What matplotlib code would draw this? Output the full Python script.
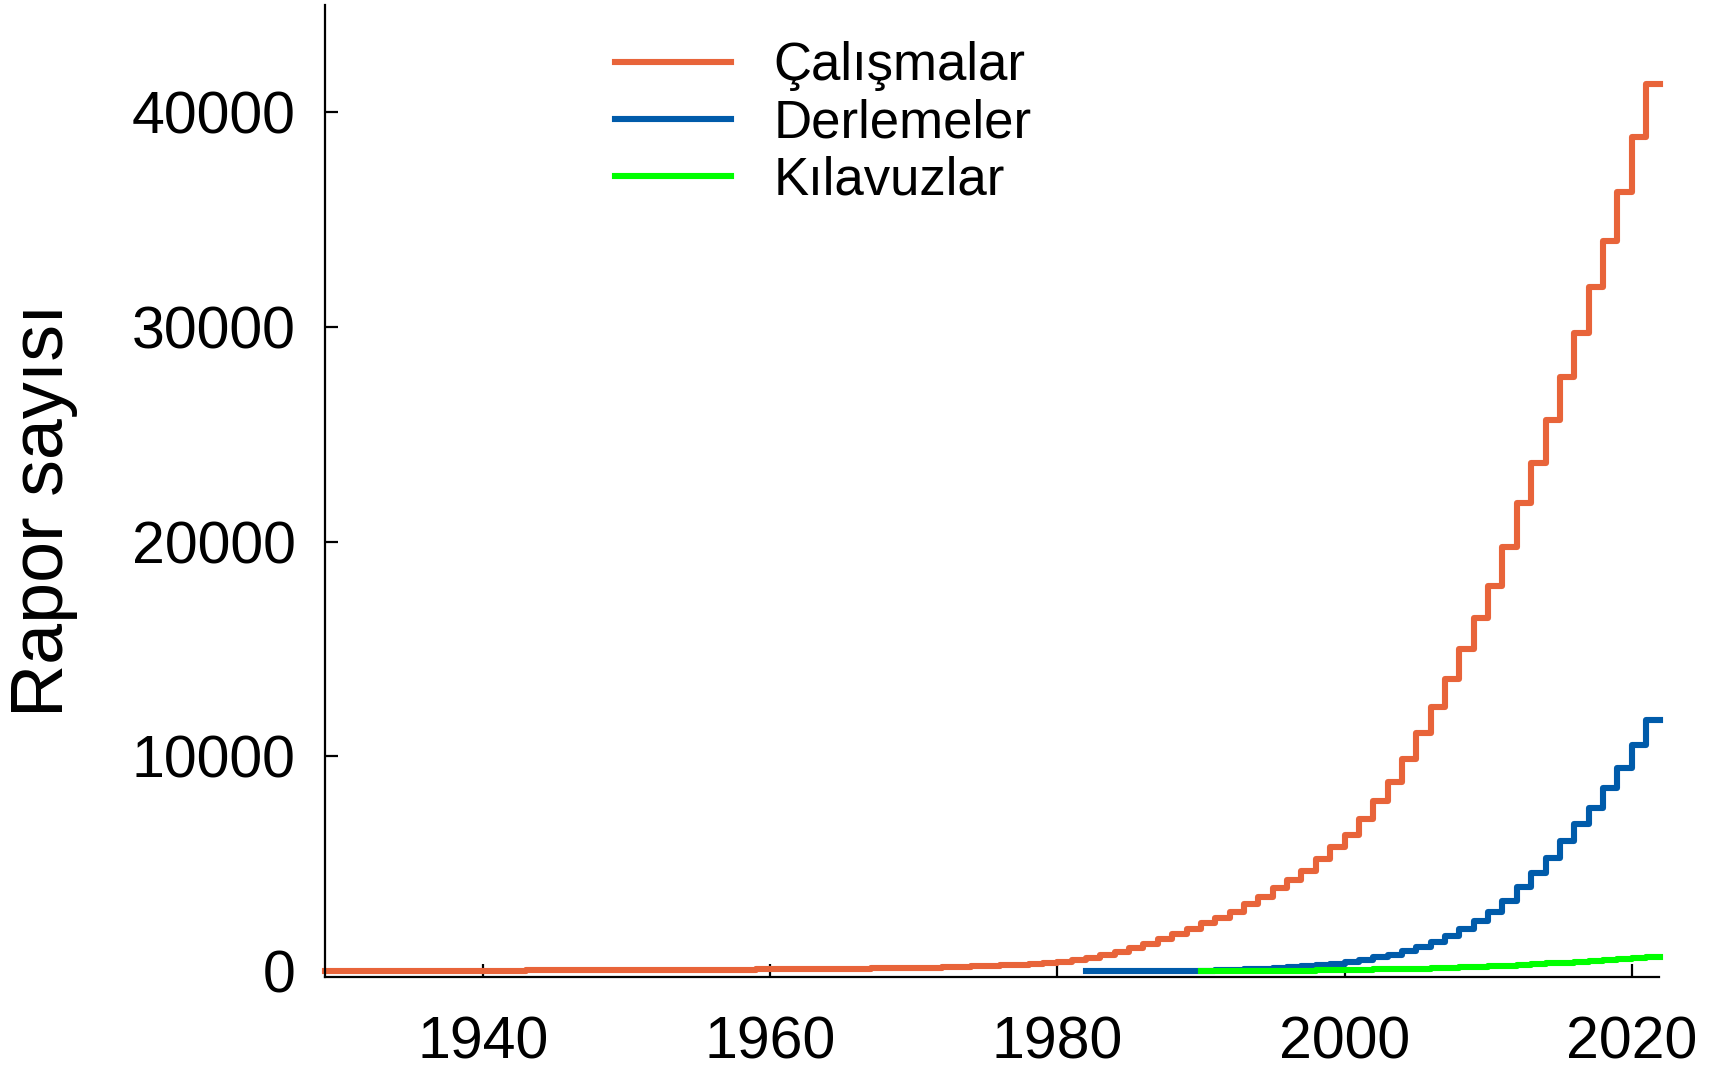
import matplotlib
matplotlib.use("Agg")
import matplotlib.pyplot as plt
import numpy as np

plt.rcParams['font.family'] = ['Liberation Sans', 'DejaVu Sans']

# --- data (cumulative report counts) ---
years_cal = list(range(1929, 2022))
calismalar = [5, 7, 9, 11, 13, 15, 17, 19, 21, 23,
              25, 27, 29, 31, 33, 35, 37, 39, 42, 45,
              48, 51, 54, 57, 60, 63, 66, 70, 74, 78,
              82, 86, 90, 95, 100, 106, 112, 119, 127, 136,
              146, 157, 170, 185, 202, 222, 245, 272, 303, 340,
              395, 447, 526, 605, 760, 916, 1071, 1271, 1490, 1737,
              1955, 2235, 2467, 2775, 3119, 3473, 3864, 4250, 4684, 5214,
              5800, 6346, 7104, 7942, 8799, 9884, 11094, 12318, 13594, 15000,
              16430, 17960, 19745, 21785, 23678, 25666, 27654, 29730, 31844, 34013,
              36295, 38843, 41327]

years_der = list(range(1982, 2022))
derlemeler = [0, 0, 0, 0, 5, 10, 15, 20, 30, 40,
              60, 80, 110, 150, 200, 250, 300, 350, 410, 520,
              640, 760, 960, 1150, 1380, 1640, 1950, 2360, 2780, 3290,
              3910, 4560, 5290, 6080, 6860, 7590, 8520, 9450, 10540, 11700]

years_kil = list(range(1990, 2022))
kilavuzlar = [0, 2, 5, 8, 12, 17, 23, 30, 38, 47,
              57, 68, 80, 93, 107, 122, 138, 156, 175, 200,
              228, 260, 293, 328, 365, 405, 445, 487, 530, 575,
              625, 680]

series_labels = ["Çalışmalar", "Derlemeler", "Kılavuzlar"]
series_colors = ["#E8643A", "#005BAA", "#00FF00"]
x_ticks = [1940, 1960, 1980, 2000, 2020]
y_ticks = [0, 10000, 20000, 30000, 40000]
y_label = "Rapor sayısı"

W, H = 1717, 1071
fig = plt.figure(figsize=(W / 100, H / 100), dpi=100)
ax = fig.add_axes([325 / W, 1 - 977 / H, (1659 - 325) / W, (977 - 5) / H])

for yrs, vals, lab, col in zip([years_cal, years_der, years_kil],
                               [calismalar, derlemeler, kilavuzlar],
                               series_labels, series_colors):
    xs = list(yrs) + [yrs[-1] + 1]
    vs = list(vals) + [vals[-1]]
    ax.plot(xs, vs, drawstyle='steps-post', color=col, lw=4.4,
            label=lab, clip_on=False)

ax.set_xlim(1929, 2021.9)
ax.set_ylim(-270, 45000)
ax.set_xticks(x_ticks)
ax.set_yticks(y_ticks)
ax.set_xticklabels([str(t) for t in x_ticks])
ax.set_yticklabels([str(t) for t in y_ticks])

for side in ['top', 'right']:
    ax.spines[side].set_visible(False)
for side in ['left', 'bottom']:
    ax.spines[side].set_linewidth(1.6)

ax.tick_params(axis='both', direction='in', length=9.5, width=1.6,
               labelsize=42.5, colors='black')
ax.tick_params(axis='y', pad=21)
ax.tick_params(axis='x', pad=28)

fig.text(44 / W, 1 - 510 / H, y_label, rotation=90, ha='center', va='center',
         fontsize=53)

leg = ax.legend(loc='upper left', bbox_to_anchor=(615 / W, 1 - 41 / H),
                bbox_transform=fig.transFigure, frameon=False, fontsize=38,
                handlelength=2.2, handletextpad=0.8, labelspacing=0.14,
                borderpad=0, borderaxespad=0)

fig.savefig("out.png", dpi=100)
